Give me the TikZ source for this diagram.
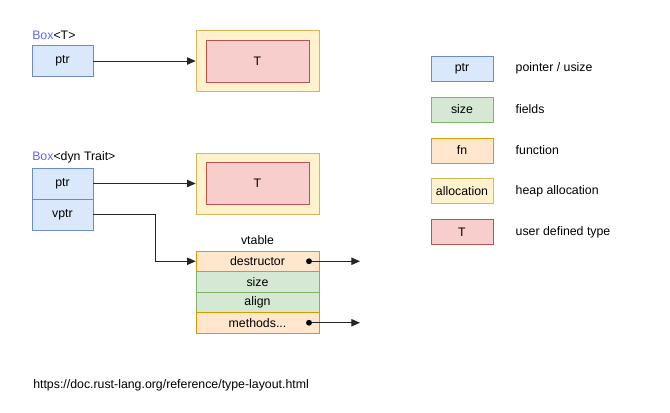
\documentclass[tikz,border=0pt]{standalone}
\usepackage{fontspec}
\setmainfont{Liberation Sans}
\usetikzlibrary{arrows.meta}

\definecolor{ptrfill}{HTML}{DAE8FC}\definecolor{ptrdraw}{HTML}{6C8EBF}
\definecolor{fldfill}{HTML}{D5E8D4}\definecolor{flddraw}{HTML}{82B366}
\definecolor{fnfill}{HTML}{FFE6CC}\definecolor{fndraw}{HTML}{D79B00}
\definecolor{allocfill}{HTML}{FFF2CC}\definecolor{allocdraw}{HTML}{D6B656}
\definecolor{tyfill}{HTML}{F8CECC}\definecolor{tydraw}{HTML}{B85450}
\definecolor{boxname}{HTML}{6666EE}

\begin{document}
\begin{tikzpicture}[
  x=0.75pt,y=-0.75pt,
  font=\fontsize{9.25}{11}\selectfont,
  >={Triangle[length=6.5pt,width=5.5pt]},
  cell/.style={draw,inner sep=0pt,minimum width=45.75pt,minimum height=23pt},
  ptrcell/.style={cell,draw=ptrdraw,fill=ptrfill},
  fldcell/.style={draw=flddraw,fill=fldfill,inner sep=0pt,minimum width=92.25pt,minimum height=15.4pt},
  fncell/.style={fldcell,draw=fndraw,fill=fnfill},
  alloc/.style={draw=allocdraw,fill=allocfill,minimum width=92.25pt,minimum height=45.75pt},
  ty/.style={draw=tydraw,fill=tyfill,minimum width=77.25pt,minimum height=31.5pt},
  legbox/.style={draw,inner sep=0pt,minimum width=46.5pt,minimum height=18.75pt},
  dot/.style={circle,fill=black,inner sep=0pt,minimum size=4.4pt},
  flow/.style={->,black!85,line width=0.75pt}
]
\useasboundingbox (0,0) rectangle (670,412);

% Box<T>: one pointer into a heap allocation
\node[anchor=west,inner sep=0pt] (lbl1) at (32,35) {\textcolor{boxname}{Box}<T>};
\node[ptrcell] (ptr1) at (62.5,61) {ptr};
\node[alloc] (heap1) at (257.5,60.5) {};
\node[ty] (ty1) at (257.5,61) {T};
\draw[flow] (ptr1.east) -- (heap1.west |- ptr1.east);

% Box<dyn Trait>: data pointer plus vtable pointer
\node[anchor=west,inner sep=0pt] (lbl2) at (32,157) {\textcolor{boxname}{Box}<dyn Trait>};
\node[ptrcell] (ptr2) at (62.5,183.5) {ptr};
\node[ptrcell] (vptr) at (62.5,214.5) {vptr};
\node[alloc] (heap2) at (257.5,183.5) {};
\node[ty] (ty2) at (257.5,183.5) {T};
\draw[flow] (ptr2.east) -- (heap2.west);

% vtable
\node (vtlbl) at (257.5,240) {vtable};
\node[fncell] (dtor) at (257.5,261.25) {destructor};
\node[fldcell] (vsize) at (257.5,281.75) {size};
\node[fldcell] (valign) at (257.5,302.25) {align};
\node[fncell] (meth) at (257.5,322.75) {methods...};
\draw[flow] (vptr.east) -- ++(62,0) |- (dtor.west);
\node[dot] (d1) at (309,261.25) {};
\node[dot] (d2) at (309,322.75) {};
\coordinate (out1) at (360,261.25);
\coordinate (out2) at (360,322.75);
\draw[flow] (d1) -- (out1);
\draw[flow] (d2) -- (out2);

% legend
\node[legbox,draw=ptrdraw,fill=ptrfill] (lg1) at (462,68.5) {ptr};
\node[legbox,draw=flddraw,fill=fldfill] (lg2) at (462,109.5) {size};
\node[legbox,draw=fndraw,fill=fnfill] (lg3) at (462,150.5) {fn};
\node[legbox,draw=allocdraw,fill=allocfill] (lg4) at (462,191) {allocation};
\node[legbox,draw=tydraw,fill=tyfill] (lg5) at (462,232) {T};
\node[anchor=west] (tx1) at (511,68.5) {pointer / usize};
\node[anchor=west] (tx2) at (511,109.5) {fields};
\node[anchor=west] (tx3) at (511,150.5) {function};
\node[anchor=west] (tx4) at (511,191) {heap allocation};
\node[anchor=west] (tx5) at (511,232) {user defined type};

\node[anchor=west,inner sep=0pt] (src) at (33,385) {https://doc.rust-lang.org/reference/type-layout.html};
\end{tikzpicture}
\end{document}
